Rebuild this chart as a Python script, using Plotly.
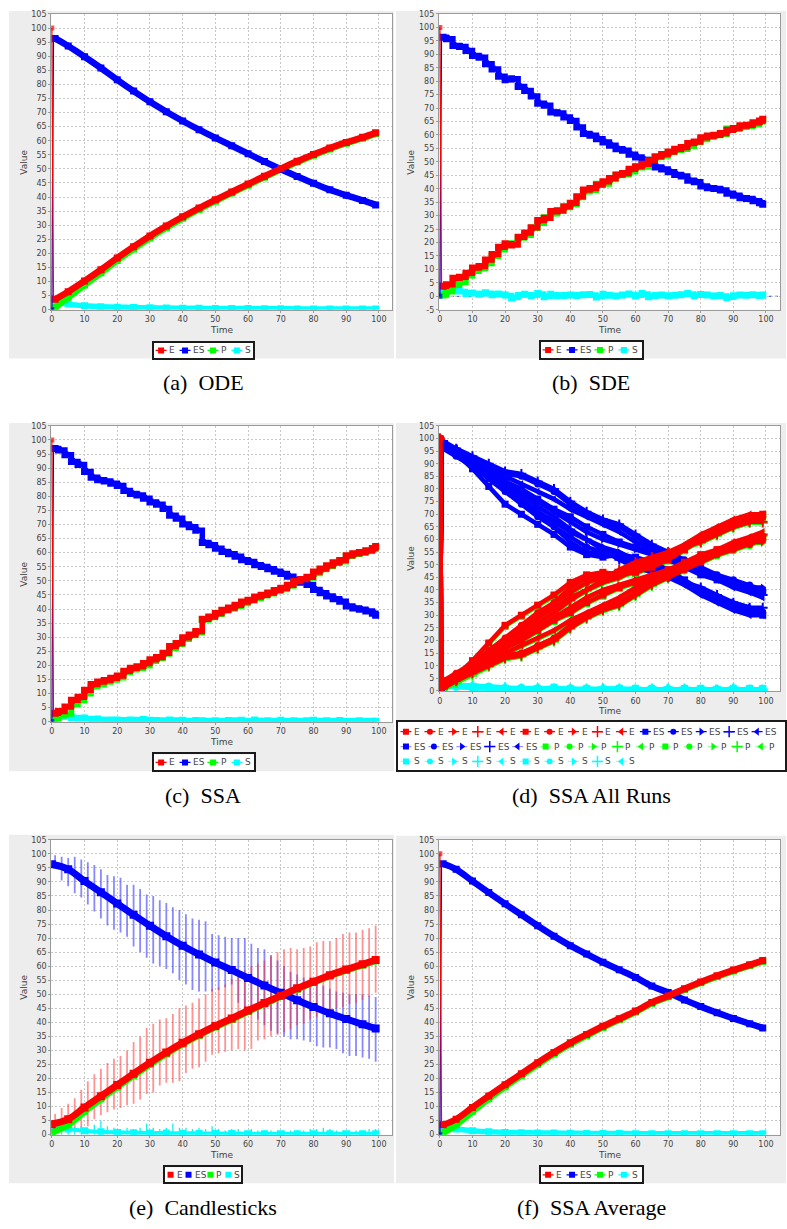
import plotly.graph_objects as go

W, H = 787, 1229

# ------------------------------------------------------------------ labels
SPECIES = ["E", "ES", "P", "S"]
TIME_TICKS = [0, 10, 20, 30, 40, 50, 60, 70, 80, 90, 100]
VALUE_TICKS = [0, 5, 10, 15, 20, 25, 30, 35, 40, 45, 50, 55, 60, 65, 70, 75, 80, 85, 90, 95, 100, 105]
VALUE_TICKS_SDE = [-5, 0, 5, 10, 15, 20, 25, 30, 35, 40, 45, 50, 55, 60, 65, 70, 75, 80, 85, 90, 95, 100, 105]
CAPTIONS = ["(a)\u00a0\u00a0ODE", "(b)\u00a0\u00a0SDE", "(c)\u00a0\u00a0SSA",
            "(d)\u00a0\u00a0SSA All Runs", "(e)\u00a0\u00a0Candlesticks", "(f)\u00a0\u00a0SSA Average"]
X_TITLE = "Time"
Y_TITLE = "Value"

# ------------------------------------------------------------------ (a) ODE
t_ode = [0, 0.5, 1, 5, 10, 15, 20, 25, 30, 35, 40, 45, 50, 55, 60, 65, 70, 75, 80, 85, 90, 95, 99]
ode_E = [100, 3.7, 3.7, 6.4, 10.2, 14.2, 18.4, 22.4, 26.2, 29.7, 33.0, 36.1, 39.0, 41.8, 44.6, 47.4, 50.1, 52.7, 55.1, 57.4, 59.4, 61.2, 62.8]
ode_ES = [0, 96.3, 96.3, 93.6, 89.8, 85.8, 81.6, 77.6, 73.8, 70.3, 67.0, 63.9, 61.0, 58.2, 55.4, 52.6, 49.9, 47.3, 44.9, 42.6, 40.6, 38.8, 37.2]
ode_P = [0, 0.3, 0.8, 4.4, 8.8, 13.1, 17.5, 21.6, 25.5, 29.1, 32.45, 35.6, 38.55, 41.4, 44.2, 47.05, 49.75, 52.4, 54.8, 57.1, 59.1, 60.9, 62.5]
ode_S = [3.0, 3.0, 2.9, 2.0, 1.4, 1.1, 0.9, 0.8, 0.7, 0.6, 0.55, 0.5, 0.45, 0.4, 0.4, 0.35, 0.35, 0.3, 0.3, 0.3, 0.3, 0.3, 0.3]

# ------------------------------------------------------------------ (b) SDE
t_sde = [0, 0.5, 1, 2, 4, 6, 8, 10, 12, 14, 16, 18, 20, 22, 24, 26, 28, 30, 32, 34, 36, 38, 40, 42, 44, 46, 48,
         50, 52, 54, 56, 58, 60, 62, 64, 66, 68, 70, 72, 74, 76, 78, 80, 82, 84, 86, 88, 90, 92, 94, 96, 98, 99]
sde_E = [100, 3.6, 3.7, 4.3, 6.7, 7.1, 8.6, 10.5, 11.1, 13.5, 15.5, 18.2, 19.5, 19.1, 22, 23.5, 25.5, 28.2, 29, 31.5,
         31.8, 33.3, 34.6, 37, 39.5, 40.1, 41.4, 42.6, 43.8, 45.1, 45.7, 47.2, 48.2, 49.1, 50.4, 51.9, 52.7, 53.7, 54.7,
         55.3, 56.8, 57.4, 59, 59.6, 59.9, 60.5, 61.7, 62.4, 63.4, 63.6, 64.5, 65.2, 65.8]
sde_ES = [0, 96.5, 96.3, 95.8, 93.3, 92.9, 91.4, 89.5, 88.9, 86.5, 84.5, 81.8, 80.5, 80.9, 78, 76.5, 74.5, 71.8, 71,
          68.5, 68.2, 66.7, 65.4, 63, 60.5, 59.9, 58.6, 57.4, 56.2, 54.9, 54.3, 52.8, 51.8, 50.9, 49.6, 48.1, 47.3,
          46.3, 45.3, 44.7, 43.2, 42.6, 41, 40.4, 40.1, 39.5, 38.3, 37.6, 36.6, 36.4, 35.5, 34.8, 34.2]
sde_P = [0, 0.2, 0.5, 1.7, 4.1, 5.1, 7.6, 9.3, 10.3, 12.2, 14.9, 17.3, 19.0, 19.5, 21.7, 22.7, 25.3, 27.2, 29.2, 30.7,
         31.6, 33.0, 34.1, 36.7, 38.9, 39.4, 41.7, 41.8, 43.4, 45.0, 45.2, 46.3, 48.0, 48.1, 50.6, 51.6, 52.2, 53.5,
         54.3, 54.7, 55.8, 57.2, 58.3, 59.1, 59.8, 60.2, 62.2, 62.2, 62.9, 63.2, 63.9, 64.9, 65.3]
sde_S = [1.5, 1.5, 1.5, 2.5, 2.6, 2.0, 1.0, 1.2, 0.8, 1.3, 0.6, 0.9, 0.5, -0.6, 0.3, 0.8, 0.2, 1.0, -0.2, 0.8, 0.2,
         0.3, 0.5, 0.3, 0.6, 0.7, -0.3, 0.8, 0.4, 0.1, 0.5, 0.9, 0.2, 1.0, -0.2, 0.3, 0.5, 0.2, 0.4, 0.6, 1.0, 0.2,
         0.7, 0.5, 0.1, 0.3, -0.5, 0.2, 0.5, 0.4, 0.6, 0.3, 0.5]

# ------------------------------------------------------------------ (c) SSA
t_ssa = [0, 0.5, 1, 2, 4, 6, 8, 10, 12, 14, 16, 18, 20, 22, 24, 26, 28, 30, 32, 34, 36, 38, 40, 42, 44, 46, 48,
         50, 52, 54, 56, 58, 60, 62, 64, 66, 68, 70, 72, 74, 76, 78, 80, 82, 84, 86, 88, 90, 92, 94, 96, 98, 99]
ssa_E = [100, 3.0, 3.0, 3.6, 5.2, 7.6, 8.7, 11.2, 13.2, 14.1, 14.6, 15.4, 16.2, 17.9, 19, 19.5, 20.7, 22, 22.8,
         24.3, 26.7, 27.8, 29.8, 30.8, 32, 36.4, 37.2, 38.4, 39.6, 40.4, 41.3, 42.5, 43.1, 44.3, 44.9, 45.7, 46.6,
         47.4, 48.4, 49.8, 50.5, 51.3, 53.1, 54.2, 55.4, 56.4, 57.2, 58.9, 59.6, 60.1, 60.7, 61.5, 62.2]
ssa_ES = [0, 97, 97, 96.4, 94.8, 92.4, 91.3, 88.8, 86.8, 85.9, 85.4, 84.6, 83.8, 82.1, 81, 80.5, 79.3, 78, 77.2,
          75.7, 73.3, 72.2, 70.2, 69.2, 68, 63.6, 62.8, 61.6, 60.4, 59.6, 58.7, 57.5, 56.9, 55.7, 55.1, 54.3, 53.4,
          52.6, 51.6, 50.2, 49.5, 48.7, 46.9, 45.8, 44.6, 43.6, 42.8, 41.1, 40.4, 39.9, 39.3, 38.5, 37.8]
ssa_P = [0, 0.5, 1.0, 2.1, 2.7, 6.1, 7.5, 9.9, 12.4, 13.1, 14.1, 14.8, 15.6, 17.5, 18.4, 19.0, 19.9, 21.5, 22.4,
         24.0, 26.1, 27.5, 29.3, 30.6, 31.6, 36.1, 37.0, 38.1, 39.4, 40.0, 41.0, 42.0, 42.9, 43.7, 44.7, 45.4, 46.4,
         46.9, 48.2, 49.5, 50.3, 51.0, 52.6, 54.0, 55.1, 56.2, 56.8, 58.7, 59.4, 59.8, 60.5, 61.3, 62.0]
ssa_S = [2, 2, 2, 1.5, 2.5, 1.5, 1.2, 1.3, 0.8, 1, 0.5, 0.6, 0.6, 0.4, 0.6, 0.5, 0.8, 0.5, 0.4, 0.3, 0.6, 0.3, 0.5,
         0.2, 0.4, 0.3, 0.2, 0.3, 0.2, 0.4, 0.3, 0.5, 0.2, 0.6, 0.2, 0.3, 0.2, 0.5, 0.2, 0.3, 0.2, 0.3, 0.5, 0.2,
         0.3, 0.2, 0.4, 0.2, 0.2, 0.3, 0.2, 0.2, 0.2]

# ------------------------------------------------------------------ (d) SSA all runs (10 runs)
t_runs = [0, 0.5, 1, 5, 10, 15, 20, 25, 30, 35, 40, 45, 50, 55, 60, 65, 70, 75, 80, 85, 90, 95, 99]
runs_ES = [
    [0, 97, 97, 94, 88, 81, 74, 70, 66, 62, 57, 54, 53, 54, 53, 51, 48, 44, 40, 36, 33, 31, 30],
    [0, 96, 96, 93, 89, 84, 79, 74, 69, 65, 61, 57, 55, 54, 52, 50, 47, 43, 40, 37, 34, 32, 31],
    [0, 97, 97, 95, 90, 85, 81, 76, 71, 67, 63, 60, 57, 55, 52, 49, 46, 43, 40, 37, 35, 33, 32],
    [0, 96, 96, 94, 90, 86, 82, 78, 73, 69, 64, 60, 56, 52, 49, 47, 45, 43, 41, 38, 35, 33, 33],
    [0, 98, 98, 96, 92, 88, 85, 82, 79, 76, 72, 69, 66, 63, 59, 56, 53, 50, 47, 44, 41, 39, 37],
    [0, 97, 97, 95, 91, 87, 83, 80, 76, 72, 69, 65, 62, 59, 57, 55, 52, 49, 46, 44, 42, 40, 39],
    [0, 96, 96, 94, 91, 88, 86, 85, 82, 79, 74, 70, 67, 65, 61, 57, 55, 52, 49, 46, 44, 42, 40],
    [0, 97, 97, 94, 90, 86, 83, 79, 75, 71, 67, 63, 60, 58, 56, 54, 52, 50, 48, 46, 43, 41, 41],
    [0, 99, 99, 96, 93, 90, 87, 86, 83, 80, 75, 71, 68, 66, 62, 58, 55, 51, 48, 45, 43, 40, 38],
    [0, 98, 98, 95, 90, 85, 80, 75, 70, 65, 59, 55, 54, 53, 51, 48, 45, 42, 38, 35, 32, 30, 30],
]
runs_E = [
    [100, 3, 3, 6, 12, 19, 26, 30, 34, 38, 43, 46, 47, 46, 47, 49, 52, 56, 60, 64, 67, 69, 70],
    [100, 4, 4, 7, 11, 16, 21, 26, 31, 35, 39, 43, 45, 46, 48, 50, 53, 57, 60, 63, 66, 68, 69],
    [100, 3, 3, 5, 10, 15, 19, 24, 29, 33, 37, 40, 43, 45, 48, 51, 54, 57, 60, 63, 65, 67, 68],
    [100, 4, 4, 6, 10, 14, 18, 22, 27, 31, 36, 40, 44, 48, 51, 53, 55, 57, 59, 62, 65, 67, 67],
    [100, 2, 2, 4, 8, 12, 15, 18, 21, 24, 28, 31, 34, 37, 41, 44, 47, 50, 53, 56, 59, 61, 63],
    [100, 3, 3, 5, 9, 13, 17, 20, 24, 28, 31, 35, 38, 41, 43, 45, 48, 51, 54, 56, 58, 60, 61],
    [100, 4, 4, 6, 9, 12, 14, 15, 18, 21, 26, 30, 33, 35, 39, 43, 45, 48, 51, 54, 56, 58, 60],
    [100, 3, 3, 6, 10, 14, 17, 21, 25, 29, 33, 37, 40, 42, 44, 46, 48, 50, 52, 54, 57, 59, 59],
    [100, 1, 1, 4, 7, 10, 13, 14, 17, 20, 25, 29, 32, 34, 38, 42, 45, 49, 52, 55, 57, 60, 62],
    [100, 2, 2, 5, 10, 15, 20, 25, 30, 35, 41, 45, 46, 47, 49, 52, 55, 58, 62, 65, 68, 70, 70],
]
runs_P = [
    [0, 0, 1, 5, 11.5, 18.5, 25.5, 29.5, 33.5, 37.5, 42.5, 45.5, 46.5, 45.5, 46.5, 48.5, 51.5, 55.5, 59.5, 63.5, 66.5, 68.5, 69.5],
    [0, 0, 1, 6, 10.5, 15.5, 20.5, 25.5, 30.5, 34.5, 38.5, 42.5, 44.5, 45.5, 47.5, 49.5, 52.5, 56.5, 59.5, 62.5, 65.5, 67.5, 68.5],
    [0, 0, 0.5, 4, 9.5, 14.5, 18.5, 23.5, 28.5, 32.5, 36.5, 39.5, 42.5, 44.5, 47.5, 50.5, 53.5, 56.5, 59.5, 62.5, 64.5, 66.5, 67.5],
    [0, 0, 1, 5, 9.5, 13.5, 17.5, 21.5, 26.5, 30.5, 35.5, 39.5, 43.5, 47.5, 50.5, 52.5, 54.5, 56.5, 58.5, 61.5, 64.5, 66.5, 66.5],
    [0, 0, 0.5, 3, 7, 11.5, 14.5, 17.5, 20.5, 23.5, 27.5, 30.5, 33.5, 36.5, 40.5, 43.5, 46.5, 49.5, 52.5, 55.5, 58.5, 60.5, 62.5],
    [0, 0, 0.5, 4, 8.5, 12.5, 16.5, 19.5, 23.5, 27.5, 30.5, 34.5, 37.5, 40.5, 42.5, 44.5, 47.5, 50.5, 53.5, 55.5, 57.5, 59.5, 60.5],
    [0, 0, 1, 4.5, 8, 11, 13, 14.5, 17.5, 20.5, 25.5, 29.5, 32.5, 34.5, 38.5, 42.5, 44.5, 47.5, 50.5, 53.5, 55.5, 57.5, 59.5],
    [0, 0, 0.5, 5, 9.5, 13.5, 16.5, 20.5, 24.5, 28.5, 32.5, 36.5, 39.5, 41.5, 43.5, 45.5, 47.5, 49.5, 51.5, 53.5, 56.5, 58.5, 58.5],
    [0, 0, 0.5, 3, 6, 9.5, 12.5, 13.5, 16.5, 19.5, 24.5, 28.5, 31.5, 33.5, 37.5, 41.5, 44.5, 48.5, 51.5, 54.5, 56.5, 59.5, 61.5],
    [0, 0, 0.5, 4, 9.5, 14.5, 19.5, 24.5, 29.5, 34.5, 40.5, 44.5, 45.5, 46.5, 48.5, 51.5, 54.5, 57.5, 61.5, 64.5, 67.5, 69.5, 69.5],
]
runs_S = [
    [3, 3, 2, 2, 1, 1.5, 1, 0.5, 1, 1.5, 0.5, 1, 0.5, 1, 0.5, 1, 0.5, 0.5, 1, 0.5, 0.5, 1, 0.5],
    [2, 2, 3, 1.5, 2, 1, 1, 1.5, 0.5, 1, 1, 0.5, 1, 0.5, 1, 0.5, 0.5, 1, 0.5, 1, 0.5, 0.5, 1],
    [3, 3, 2.5, 2, 1, 1, 0.5, 1, 1, 0.5, 1, 1, 0.5, 0.5, 1, 0.5, 1, 0.5, 0.5, 1, 0.5, 0.5, 0.5],
    [2, 2, 2, 2.5, 1.5, 1, 1.5, 0.5, 1, 1, 0.5, 1, 1, 0.5, 0.5, 1, 0.5, 1, 0.5, 0.5, 1, 0.5, 0.5],
    [2, 2, 1.5, 2, 2.5, 1.5, 1, 1, 1.5, 0.5, 1, 0.5, 1, 1, 0.5, 0.5, 1, 0.5, 1, 0.5, 0.5, 1, 0.5],
    [3, 3, 2.5, 2, 1, 1.5, 1, 1, 0.5, 1, 1, 0.5, 0.5, 1, 1, 0.5, 0.5, 1, 0.5, 0.5, 1, 0.5, 1],
    [2, 2, 2, 2.5, 2, 2, 1.5, 1, 1, 1, 0.5, 1, 0.5, 1, 0.5, 1, 0.5, 0.5, 1, 0.5, 1, 0.5, 0.5],
    [3, 3, 2.5, 1.5, 1, 1, 1, 0.5, 1, 1, 0.5, 0.5, 1, 0.5, 1, 0.5, 1, 0.5, 0.5, 1, 0.5, 0.5, 1],
    [1, 1, 1, 2, 2, 1, 1, 1, 1, 0.5, 1, 0.5, 1, 1, 0.5, 0.5, 1, 0.5, 0.5, 0.5, 1, 0.5, 0.5],
    [2, 2, 2, 2, 1, 1, 1, 1, 1, 1, 1, 0.5, 1, 1, 0.5, 1, 0.5, 1, 0.5, 0.5, 1, 0.5, 0.5],
]

# ------------------------------------------------------------------ (e) candlesticks
t_mean = [0, 5, 10, 15, 20, 25, 30, 35, 40, 45, 50, 55, 60, 65, 70, 75, 80, 85, 90, 95, 99]
mean_E = [3.7, 5.5, 9.7, 13.7, 17.7, 21.7, 25.6, 29.3, 32.7, 35.8, 38.7, 41.4, 44.2, 46.9, 49.5, 52.1, 54.5, 56.8, 58.8, 60.7, 62.2]
mean_ES = [96.3, 94.5, 90.3, 86.3, 82.3, 78.3, 74.4, 70.7, 67.3, 64.2, 61.3, 58.6, 55.8, 53.1, 50.5, 47.9, 45.5, 43.2, 41.2, 39.3, 37.8]
mean_P = [0.7, 3.5, 8.3, 12.7, 16.9, 21.0, 25.0, 28.75, 32.2, 35.35, 38.3, 41.0, 43.85, 46.55, 49.2, 51.8, 54.2, 56.5, 58.5, 60.4, 61.9]
mean_S = [3.0, 2.0, 1.4, 1.0, 0.8, 0.7, 0.6, 0.55, 0.5, 0.45, 0.4, 0.4, 0.35, 0.35, 0.3, 0.3, 0.3, 0.3, 0.3, 0.3, 0.3]

t_bar = [1, 3, 5, 7, 9, 11, 13, 15, 17, 19, 21, 23, 25, 27, 29, 31, 33, 35, 37, 39, 41, 43, 45, 47, 49,
         51, 53, 55, 57, 59, 61, 63, 65, 67, 69, 71, 73, 75, 77, 79, 81, 83, 85, 87, 89, 91, 93, 95, 97, 99]
E_hi = [7.4, 9.5, 11, 13, 16, 19, 21.5, 23.5, 25.5, 27, 28, 30, 33, 35, 38, 39.5, 41, 41.5, 43, 45, 46, 47, 48.5, 50, 52,
        52.5, 53.5, 55.5, 57, 58.5, 60, 61, 62, 63.5, 65, 66, 66.5, 66, 66.5, 67, 68.5, 69, 69, 70, 71.5, 72, 72, 73, 73.5, 74.5]
E_lo = [2.7, 1.5, 1.5, 1.5, 2, 3, 5.5, 7, 8, 9, 9.5, 10.5, 11, 12.5, 14.5, 15, 17.5, 18.5, 18.5, 19, 22, 23.5, 24, 26, 28.5,
        29, 29.5, 30, 30.5, 30, 30.5, 33.5, 34, 35, 35.5, 36.5, 37.5, 39, 39.5, 41, 42, 43, 44.5, 45, 45.5, 46.5, 47, 48, 49, 50.5]
ES_hi = [99.5, 99, 98.5, 99, 98, 97, 96, 94.5, 92.5, 92, 91.5, 89, 89, 87.5, 85.5, 85, 83.5, 82.5, 81, 80, 78.5, 77, 76.5, 76, 71.5,
         71, 70.5, 70, 70, 70, 68, 66.5, 66, 64, 62, 60, 58, 57, 56, 55, 54, 53, 52, 51, 50.5, 50, 50, 50, 49.5, 49]
ES_lo = [96, 90.5, 88.5, 86, 84.5, 82, 79.5, 77, 74.5, 73, 72, 70.5, 67, 65, 63, 61, 60, 59, 57.5, 55, 53.5, 51.5, 51, 51, 51,
         51.5, 52.5, 53.5, 47, 45, 43, 41, 39, 37, 36, 35, 34, 34, 33.5, 33, 31.5, 31, 31, 30.5, 29, 28, 28, 27.5, 27, 26]
S_hi = [3.5, 4, 3, 2.5, 3, 2.5, 3.5, 5, 3, 2.5, 2, 2.5, 2, 2.5, 4, 2.5, 2, 2.5, 4, 2.5, 2.5, 2, 2.5, 2, 3,
        2, 1.5, 2, 2, 1.5, 2, 1.5, 1.5, 1.5, 1.5, 1.5, 1.5, 1.5, 1.5, 2, 2, 2.5, 2, 1.5, 1.5, 1.5, 1.5, 1.5, 2, 2]

# ------------------------------------------------------------------ (f) SSA average
t_avg = [0, 0.5, 1, 5, 10, 15, 20, 25, 30, 35, 40, 45, 50, 55, 60, 65, 70, 75, 80, 85, 90, 95, 99]
avg_E = [100, 3.5, 3.5, 5.5, 9.7, 13.8, 17.8, 21.7, 25.6, 29.3, 32.7, 35.7, 38.6, 41.3, 44.0, 47.1, 49.4, 52.0, 54.4, 56.6, 58.6, 60.5, 62.0]
avg_ES = [0, 96.5, 96.5, 94.5, 90.3, 86.2, 82.2, 78.3, 74.4, 70.7, 67.3, 64.3, 61.4, 58.7, 56.0, 52.9, 50.6, 48.0, 45.6, 43.4, 41.4, 39.5, 38.0]
avg_P = [0, 0.7, 0.7, 3.5, 8.3, 12.8, 17.0, 21.0, 25.0, 28.75, 32.2, 35.25, 38.2, 40.9, 43.65, 46.75, 49.1, 51.7, 54.1, 56.3, 58.3, 60.2, 61.7]
avg_S = [2.8, 2.8, 2.8, 2.0, 1.4, 1.0, 0.8, 0.7, 0.6, 0.55, 0.5, 0.45, 0.4, 0.4, 0.35, 0.35, 0.3, 0.3, 0.3, 0.3, 0.3, 0.3, 0.3]

# ------------------------------------------------------------------ styling / layout (pixels)
COL = {"E": "#ff0000", "ES": "#0000ff", "P": "#00ff00", "S": "#00ffff"}
LIGHT = {"E": "rgba(255,0,0,0.45)", "ES": "rgba(0,0,255,0.4)", "P": "rgba(0,255,0,0.4)", "S": "rgba(0,255,255,0.45)"}
RUN_SYMBOLS = ["square", "circle", "triangle-right", "cross-thin", "triangle-left"]
TEXTW = {"E": 7, "ES": 11, "P": 7, "S": 7}
GRAY = "#ededed"
TICKFONT = dict(family="DejaVu Sans", size=8, color="#444444")
LABFONT = dict(family="DejaVu Sans", size=9, color="#444444")
CAPFONT = dict(family="Liberation Serif", size=22, color="#000000")

PANELS = [
    dict(n=1, plot=(49.3, 10, 391, 308), xr=[-0.2, 104], yr=[0, 105], yt=VALUE_TICKS, gray=(7, 7, 393, 357),
         leg=(152, 341, 252, 357), cap=(202, 381), vlab=(22, 159), tlab=(220, 328)),
    dict(n=2, plot=(438, 10, 780, 308), xr=[-0.3, 104.3], yr=[-5, 105], yt=VALUE_TICKS_SDE, gray=(395, 7, 786, 357),
         leg=(540, 340, 642, 357), cap=(591, 381), vlab=(410, 159), tlab=(609, 328)),
    dict(n=3, plot=(49.3, 425, 391, 723), xr=[-0.2, 104], yr=[0, 105], yt=VALUE_TICKS, gray=(7, 422, 393, 773),
         leg=(152, 756, 253, 772), cap=(202, 797), vlab=(22, 574), tlab=(220, 743)),
    dict(n=4, plot=(438, 425, 780, 692), xr=[-0.3, 104.3], yr=[0, 105], yt=VALUE_TICKS, gray=(395, 422, 786, 773),
         leg=(397, 723, 785, 772), cap=(591, 797), vlab=(410, 558), tlab=(609, 712)),
    dict(n=5, plot=(49.3, 842, 391, 1139), xr=[-0.2, 104], yr=[0, 105], yt=VALUE_TICKS, gray=(7, 837, 393, 1188),
         leg=(163, 1172, 240, 1187), cap=(202, 1212), vlab=(22, 990), tlab=(220, 1159)),
    dict(n=6, plot=(438, 842, 780, 1139), xr=[-0.3, 104.3], yr=[0, 105], yt=VALUE_TICKS, gray=(395, 838, 786, 1188),
         leg=(540, 1172, 642, 1187), cap=(591, 1212), vlab=(410, 990), tlab=(609, 1159)),
]


def px(x):
    return x / W


def py(y):
    return 1 - y / H


def axref(letter, n):
    return letter if n == 1 else f"{letter}{n}"


def axkey(letter, n):
    return f"{letter}axis" if n == 1 else f"{letter}axis{n}"


fig = go.Figure()
layout = dict(width=W, height=H, margin=dict(l=0, r=0, t=0, b=0), paper_bgcolor="white",
              plot_bgcolor="rgba(0,0,0,0)", showlegend=False, shapes=[], annotations=[])

for p in PANELS:
    n = p["n"]
    x0, y0, x1, y1 = p["plot"]
    gx0, gy0, gx1, gy1 = p["gray"]
    lx0, ly0, lx1, ly1 = p["leg"]
    layout["shapes"].append(dict(type="rect", xref="paper", yref="paper", x0=px(gx0), x1=px(gx1), y0=py(gy1), y1=py(gy0),
                                 fillcolor=GRAY, line=dict(width=0), layer="below"))
    layout["shapes"].append(dict(type="rect", xref="paper", yref="paper", x0=px(x0), x1=px(x1), y0=py(y1), y1=py(y0),
                                 fillcolor="white", line=dict(width=0), layer="below"))
    layout["shapes"].append(dict(type="rect", xref="paper", yref="paper", x0=px(lx0), x1=px(lx1), y0=py(ly1), y1=py(ly0),
                                 fillcolor="white", line=dict(width=0), layer="below"))
    common = dict(showgrid=True, gridcolor="#c8c8c8", griddash="2px,2px", gridwidth=1, showline=True, mirror=True,
                  linecolor="#9a9a9a", linewidth=1, ticks="outside", ticklen=2, tickcolor="#9a9a9a",
                  tickfont=TICKFONT, zeroline=False, fixedrange=True)
    layout[axkey("x", n)] = dict(domain=[px(x0), px(x1)], range=p["xr"], anchor=axref("y", n),
                                 tickvals=TIME_TICKS, ticktext=[str(v) for v in TIME_TICKS], **common)
    layout[axkey("y", n)] = dict(domain=[py(y1), py(y0)], range=p["yr"], anchor=axref("x", n),
                                 tickvals=p["yt"], ticktext=[str(v) for v in p["yt"]], **common)
    # legend box axes
    m = n + 6
    layout[axkey("x", m)] = dict(domain=[px(lx0), px(lx1)], range=[0, lx1 - lx0], anchor=axref("y", m),
                                 showgrid=False, zeroline=False, showticklabels=False, ticks="",
                                 showline=True, mirror=True, linecolor="#1a1a1a", linewidth=1.6, fixedrange=True)
    layout[axkey("y", m)] = dict(domain=[py(ly1), py(ly0)], range=[ly1 - ly0, 0], anchor=axref("x", m),
                                 showgrid=False, zeroline=False, showticklabels=False, ticks="",
                                 showline=True, mirror=True, linecolor="#1a1a1a", linewidth=1.6, fixedrange=True)
    # titles and caption
    layout["annotations"].append(dict(text=Y_TITLE, x=px(p["vlab"][0]), y=py(p["vlab"][1]), xref="paper", yref="paper",
                                      textangle=-90, showarrow=False, font=LABFONT, xanchor="center", yanchor="middle"))
    layout["annotations"].append(dict(text=X_TITLE, x=px(p["tlab"][0]), y=py(p["tlab"][1]), xref="paper", yref="paper",
                                      showarrow=False, font=LABFONT, xanchor="center", yanchor="middle"))
    layout["annotations"].append(dict(text=CAPTIONS[n - 1], x=px(p["cap"][0]), y=py(p["cap"][1]), xref="paper",
                                      yref="paper", showarrow=False, font=CAPFONT, xanchor="center", yanchor="middle"))


def series(t, y, n, color, width, shape="linear", msize=7, marker=True, symbol="square"):
    fig.add_trace(go.Scatter(
        x=t, y=y, xaxis=axref("x", n), yaxis=axref("y", n),
        mode="lines+markers" if marker else "lines",
        line=dict(color=color, width=width, shape=shape),
        marker=dict(symbol=symbol, size=msize, color=color,
                    line=dict(color=color, width=2 if symbol == "cross-thin" else 0)),
        hoverinfo="skip", showlegend=False))


def spike(t, y, n, color):
    fig.add_trace(go.Scatter(
        x=t[:3], y=y[:3], xaxis=axref("x", n), yaxis=axref("y", n), mode="lines+markers",
        line=dict(color=color, width=1.3), marker=dict(symbol="square", size=[5, 0, 0], color=color, line=dict(width=0)),
        hoverinfo="skip", showlegend=False))


def standard_panel(n, t, E, ES, P, S, shape, width):
    series(t[2:], S[2:], n, COL["S"], width - 1, shape)
    series(t[2:], P[2:], n, COL["P"], width, shape)
    series(t[2:], ES[2:], n, COL["ES"], width, shape)
    series(t[2:], E[2:], n, COL["E"], width, shape)
    spike(t, ES, n, COL["ES"])
    spike(t, E, n, COL["E"])


standard_panel(1, t_ode, ode_E, ode_ES, ode_P, ode_S, "spline", 6.5)
standard_panel(2, t_sde, sde_E, sde_ES, sde_P, sde_S, "hv", 5.5)
layout["shapes"].append(dict(type="line", xref="x2 domain", yref="y2", x0=0, x1=1, y0=0, y1=0,
                             line=dict(color="#3030ff", width=1, dash="dot"), layer="below"))
standard_panel(3, t_ssa, ssa_E, ssa_ES, ssa_P, ssa_S, "hv", 5.5)
standard_panel(6, t_avg, avg_E, avg_ES, avg_P, avg_S, "spline", 6.5)

# (d) all runs
for runs, key, w in ((runs_S, "S", 4), (runs_P, "P", 4), (runs_ES, "ES", 4.5), (runs_E, "E", 4.5)):
    for i, r in enumerate(runs):
        series(t_runs, r, 4, COL[key], w, "linear", msize=7, symbol=RUN_SYMBOLS[i % 5])


# (e) candlesticks
def segments(ts, lo, hi):
    xs, ys = [], []
    for t, a, b in zip(ts, lo, hi):
        xs += [t, t, None]
        ys += [a, b, None]
    return xs, ys


for lo, hi, color, w in ((ES_lo, ES_hi, "rgba(40,40,255,0.55)", 1.8), (E_lo, E_hi, "rgba(255,40,40,0.5)", 1.8),
                         ([0] * len(S_hi), S_hi, "rgba(0,235,235,0.9)", 1.3)):
    xs, ys = segments(t_bar, lo, hi)
    fig.add_trace(go.Scatter(x=xs, y=ys, xaxis="x5", yaxis="y5", mode="lines", line=dict(color=color, width=w),
                             hoverinfo="skip", showlegend=False))
series(t_mean, mean_S, 5, COL["S"], 4, "spline")
series(t_mean, mean_P, 5, COL["P"], 6.5, "spline")
series(t_mean, mean_ES, 5, COL["ES"], 7, "spline", msize=8)
series(t_mean, mean_E, 5, COL["E"], 7, "spline", msize=8)


# ------------------------------------------------------------------ legends
def legend(n, rows, with_line, start):
    p = PANELS[n - 1]
    lx0, ly0, lx1, ly1 = p["leg"]
    m = n + 6
    for ry, items in rows:
        x = start
        for lab, sym, line_col in items:
            if with_line:
                fig.add_trace(go.Scatter(x=[x - 5.5, x + 5.5], y=[ry, ry], xaxis=axref("x", m), yaxis=axref("y", m),
                                         mode="lines", line=dict(color=line_col, width=1.2),
                                         hoverinfo="skip", showlegend=False))
            size = 8 if sym == "cross-thin" else (7 if "triangle" in sym else 6)
            fig.add_trace(go.Scatter(x=[x], y=[ry], xaxis=axref("x", m), yaxis=axref("y", m), mode="markers",
                                     marker=dict(symbol=sym, size=size, color=COL[lab],
                                                 line=dict(color=COL[lab], width=1.5 if sym == "cross-thin" else 0)),
                                     hoverinfo="skip", showlegend=False))
            off = 7 if with_line else 5
            layout["annotations"].append(dict(text=lab, x=px(lx0 + x + off), y=py(ly0 + ry), xref="paper",
                                              yref="paper", showarrow=False, font=LABFONT, xanchor="left",
                                              yanchor="middle", borderpad=0))
            x += (17 if with_line else 11) + TEXTW[lab]


for n in (1, 2, 3, 6):
    h = PANELS[n - 1]["leg"][3] - PANELS[n - 1]["leg"][1]
    legend(n, [(h / 2, [(s, "square", COL[s]) for s in SPECIES])], True, 7.5)
h5 = PANELS[4]["leg"][3] - PANELS[4]["leg"][1]
legend(5, [(h5 / 2, [(s, "square", COL[s]) for s in SPECIES])], False, 6)

d_entries = []
for s in SPECIES:
    for i in range(10):
        d_entries.append((s, RUN_SYMBOLS[i % 5]))
d_rows = []
for r, ry in enumerate((10, 25, 40)):
    chunk = d_entries[15 * r: 15 * r + 15]
    items = []
    for k, (s, sym) in enumerate(chunk):
        idx = 15 * r + k
        items.append((s, sym, COL[s] if idx < 15 else LIGHT[s]))
    d_rows.append((ry, items))
legend(4, d_rows, True, 8)

fig.update_layout(**layout)
fig.write_html("out.html", config={"displayModeBar": False},
               post_script="document.body.style.margin='0px';document.body.style.overflow='hidden';")
